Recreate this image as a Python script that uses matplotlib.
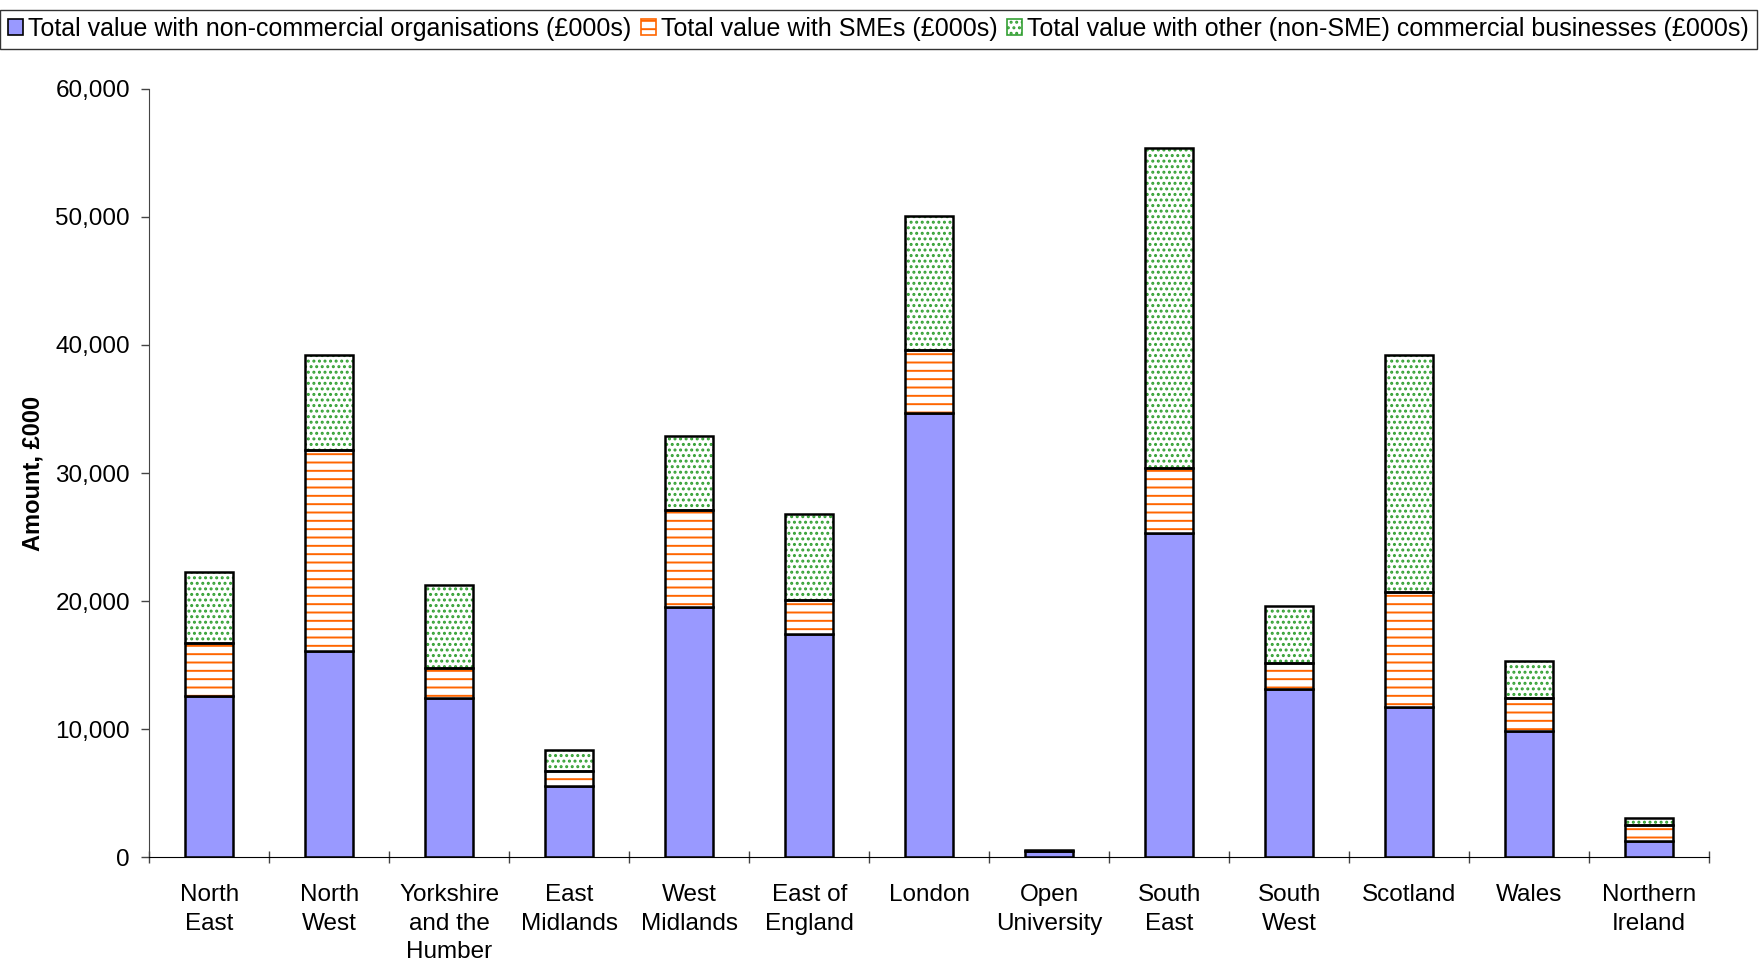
import numpy as np
import matplotlib.pyplot as plt
from matplotlib.patches import Patch
from matplotlib.ticker import FuncFormatter

plt.rcParams['font.family'] = ['Liberation Sans', 'DejaVu Sans']
plt.rcParams['hatch.linewidth'] = 1.4

# Регионы
regions = ['North\nEast', 'North\nWest', 'Yorkshire\nand the\nHumber', 'East\nMidlands',
           'West\nMidlands', 'East of\nEngland', 'London', 'Open\nUniversity', 'South\nEast',
           'South\nWest', 'Scotland', 'Wales', 'Northern\nIreland']

# Значения (£000s)
non_commercial = [12600, 16100, 12450, 5600, 19550, 17400, 34700, 500, 25350, 13150, 11750, 9900, 1300]
smes = [4150, 15700, 2350, 1150, 7550, 2700, 4900, 30, 5050, 2000, 8950, 2550, 1200]
other_commercial = [5550, 7400, 6500, 1650, 5800, 6700, 10500, 70, 25000, 4500, 18500, 2900, 570]

labels = ['Total value with non-commercial organisations (£000s)',
          'Total value with SMEs (£000s)',
          'Total value with other (non-SME) commercial businesses (£000s)']

blue = '#9999ff'
orange = '#ff6600'
green = '#33a033'

fig = plt.figure(figsize=(17.62, 9.64), dpi=100)
ax = fig.add_axes([0.0848, 0.1106, 0.8852, 0.7973])

x = np.arange(len(regions))
w = 0.4
nc = np.array(non_commercial)
sm = np.array(smes)
ot = np.array(other_commercial)

# Синие столбцы
ax.bar(x, nc, w, color=blue, edgecolor='black', linewidth=1.8, zorder=2)
# SME: оранжевая штриховка, потом чёрная рамка
ax.bar(x, sm, w, bottom=nc, color='white', edgecolor=orange, hatch='--', linewidth=0, zorder=2)
ax.bar(x, sm, w, bottom=nc, fill=False, edgecolor='black', linewidth=1.8, zorder=3)
# Прочие: зелёные точки
ax.bar(x, ot, w, bottom=nc + sm, color='white', edgecolor=green, hatch='...', linewidth=0, zorder=2)
ax.bar(x, ot, w, bottom=nc + sm, fill=False, edgecolor='black', linewidth=1.8, zorder=3)

ax.set_xlim(-0.5, len(regions) - 0.5)
ax.set_ylim(0, 60000)
ax.set_yticks(np.arange(0, 60001, 10000))
ax.yaxis.set_major_formatter(FuncFormatter(lambda v, p: f'{int(v):,}'))

ax.set_xticks(np.arange(-0.5, len(regions), 1.0))
ax.set_xticklabels([])
ax.set_xticks(x, minor=True)
ax.set_xticklabels(regions, minor=True, fontsize=17.5, linespacing=1.4)
ax.tick_params(axis='x', which='minor', length=0, pad=19)
ax.tick_params(axis='x', which='major', length=8, width=1, direction='inout', color='#444444')
ax.tick_params(axis='y', length=6, width=1, color='#444444', labelsize=17.5, pad=8)

for s in ['top', 'right']:
    ax.spines[s].set_visible(False)
ax.spines['left'].set_color('#444444')
ax.spines['bottom'].set_color('black')

ax.set_ylabel('Amount, £000', fontsize=17, fontweight='bold', labelpad=8)

# Легенда
handles = [Patch(facecolor=blue, edgecolor='black', linewidth=1.2),
           Patch(facecolor='white', edgecolor=orange, hatch='--', linewidth=1.2),
           Patch(facecolor='white', edgecolor=green, hatch='...', linewidth=1.2)]
leg = fig.legend(handles, labels, loc='upper center', bbox_to_anchor=(0.4985, 0.99), ncol=3,
                 fontsize=18, frameon=True, fancybox=False, edgecolor='black',
                 handlelength=0.6, handleheight=0.6, handletextpad=0.2, columnspacing=0.4,
                 borderpad=0.3, borderaxespad=0)
leg.get_frame().set_linewidth(1.0)

plt.savefig('out.png', dpi=100)
